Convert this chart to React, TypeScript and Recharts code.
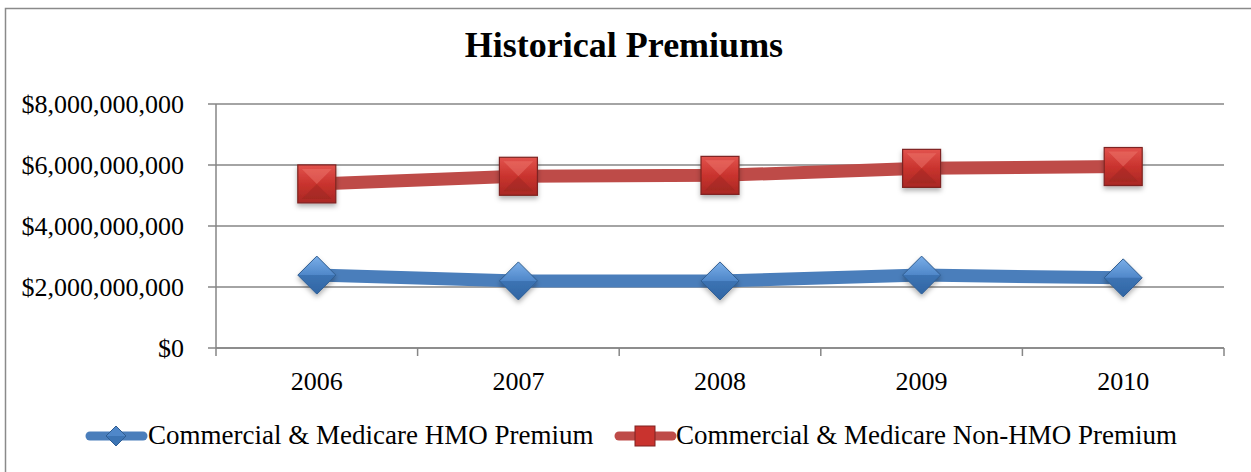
import { LineChart, Line, XAxis, YAxis, CartesianGrid } from "recharts"

// Historical premiums, 2006-2010
const years = ["2006", "2007", "2008", "2009", "2010"]
const hmoPremium = [2.39e9, 2.2e9, 2.2e9, 2.39e9, 2.3e9]
const nonHmoPremium = [5.38e9, 5.63e9, 5.66e9, 5.89e9, 5.95e9]
const yTicks = [0, 2e9, 4e9, 6e9, 8e9]

const HMO_NAME = "Commercial & Medicare HMO Premium"
const NON_HMO_NAME = "Commercial & Medicare Non-HMO Premium"

const FONT = "Liberation Serif"
const GRID = "#868686"
const BLUE = "#4A7EBB"
const RED = "#BE4B48"

const data = years.map((year, i) => ({
  year,
  hmo: hmoPremium[i],
  nonHmo: nonHmoPremium[i],
}))

const HALF_BAND = 100.8

function fmtMoney(v: number): string {
  return "$" + v.toLocaleString("en-US")
}

function Diamond({ cx, cy, size = 19 }: { cx: number; cy: number; size?: number }) {
  const h = size
  return (
    <g filter="url(#markShadow)">
      <polygon
        points={`${cx},${cy - h} ${cx + h},${cy} ${cx},${cy + h} ${cx - h},${cy}`}
        fill="url(#blueGrad)"
        stroke="#2F5C8F"
        strokeWidth={1}
      />
      <polygon points={`${cx - h},${cy} ${cx + h},${cy} ${cx},${cy + h}`} fill="#2E64A3" opacity={0.55} />
    </g>
  )
}

function Square({ cx, cy, size = 19 }: { cx: number; cy: number; size?: number }) {
  const h = size
  return (
    <g filter="url(#markShadow)">
      <rect x={cx - h} y={cy - h} width={h * 2} height={h * 2} fill="url(#redGrad)" stroke="#7E2320" strokeWidth={1.2} />
      <polygon
        points={`${cx - h + 4},${cy - h + 4} ${cx + h - 4},${cy - h + 4} ${cx},${cy}`}
        fill="#F07A72"
        opacity={0.45}
      />
      <polygon
        points={`${cx - h + 4},${cy + h - 4} ${cx + h - 4},${cy + h - 4} ${cx},${cy}`}
        fill="#8E2420"
        opacity={0.35}
      />
    </g>
  )
}

function XTick(props: any) {
  const { x, y, payload, index } = props
  const isLast = index === years.length - 1
  return (
    <g>
      <line x1={x - HALF_BAND} y1={y} x2={x - HALF_BAND} y2={y + 8} stroke={GRID} strokeWidth={1.5} />
      {isLast && <line x1={x + HALF_BAND} y1={y} x2={x + HALF_BAND} y2={y + 8} stroke={GRID} strokeWidth={1.5} />}
      <text x={x} y={y + 42} textAnchor="middle" fill="#000" fontFamily={FONT} fontSize={26}>
        {payload.value}
      </text>
    </g>
  )
}

function LegendIcon({ x, kind, color }: { x: number; kind: "diamond" | "square"; color: string }) {
  const cy = 436
  const mid = x + 30
  return (
    <g>
      <line x1={x + 4} y1={cy} x2={x + 57} y2={cy} stroke={color} strokeWidth={9} strokeLinecap="round" />
      {kind === "diamond" ? (
        <g>
          <polygon
            points={`${mid},${cy - 10} ${mid + 10},${cy} ${mid},${cy + 10} ${mid - 10},${cy}`}
            fill="#4F87C9"
            stroke="#2F5C8F"
          />
          <polygon points={`${mid - 10},${cy} ${mid + 10},${cy} ${mid},${cy + 10}`} fill="#2E64A3" opacity={0.55} />
        </g>
      ) : (
        <rect x={mid - 10} y={cy - 10} width={20} height={20} fill="#C9332E" stroke="#7E2320" />
      )}
    </g>
  )
}

export default function App() {
  return (
    <div
      style={{
        position: "fixed",
        left: 0,
        top: 0,
        width: 1251,
        height: 472,
        overflow: "hidden",
        background: "#fff",
      }}
    >
      <div style={{ position: "absolute", left: 0, top: 0 }}>
        <LineChart width={1251} height={472} data={data} margin={{ top: 104, right: 27, bottom: 74, left: 0 }}>
          <defs>
            <linearGradient id="blueGrad" x1="0" y1="0" x2="0" y2="1">
              <stop offset="0%" stopColor="#7AAEE8" />
              <stop offset="50%" stopColor="#4F87C9" />
              <stop offset="100%" stopColor="#3467A6" />
            </linearGradient>
            <linearGradient id="redGrad" x1="0" y1="0" x2="0" y2="1">
              <stop offset="0%" stopColor="#E2534D" />
              <stop offset="50%" stopColor="#C9332E" />
              <stop offset="100%" stopColor="#A92824" />
            </linearGradient>
            <filter id="markShadow" x="-50%" y="-50%" width="200%" height="200%">
              <feDropShadow dx={0} dy={3} stdDeviation={2.5} floodColor="#000" floodOpacity={0.3} />
            </filter>
          </defs>
          <CartesianGrid horizontal vertical={false} stroke={GRID} strokeWidth={1.5} />
          <XAxis
            dataKey="year"
            padding={{ left: HALF_BAND, right: HALF_BAND }}
            axisLine={{ stroke: GRID, strokeWidth: 1.5 }}
            tickLine={false}
            tickSize={0}
            tickMargin={0}
            tick={<XTick />}
            height={50}
            interval={0}
          />
          <YAxis
            width={216}
            domain={[0, 8e9]}
            ticks={yTicks}
            tickFormatter={fmtMoney}
            axisLine={{ stroke: GRID, strokeWidth: 1.5 }}
            tickLine={{ stroke: GRID, strokeWidth: 1.5 }}
            tickSize={8}
            tickMargin={24}
            tick={{ fill: "#000", fontSize: 26, fontFamily: FONT }}
            interval={0}
          />
          <Line
            dataKey="nonHmo"
            name={NON_HMO_NAME}
            stroke={RED}
            strokeWidth={13}
            isAnimationActive={false}
            dot={(p: any) => <Square key={`sq-${p.index}`} cx={p.cx} cy={p.cy} />}
            activeDot={false}
          />
          <Line
            dataKey="hmo"
            name={HMO_NAME}
            stroke={BLUE}
            strokeWidth={13}
            isAnimationActive={false}
            dot={(p: any) => <Diamond key={`dm-${p.index}`} cx={p.cx} cy={p.cy} />}
            activeDot={false}
          />
        </LineChart>
      </div>

      <svg width={1251} height={472} style={{ position: "absolute", left: 0, top: 0, pointerEvents: "none" }}>
        <rect x={5.5} y={8.5} width={1260} height={480} fill="none" stroke="#8a8a8a" strokeWidth={1.5} />
        <text x={624} y={57} textAnchor="middle" fontFamily={FONT} fontWeight="bold" fontSize={36} fill="#000">
          Historical Premiums
        </text>
        <LegendIcon x={86} kind="diamond" color={BLUE} />
        <text x={148} y={444} fontFamily={FONT} fontSize={27} fill="#000">
          {HMO_NAME}
        </text>
        <LegendIcon x={615} kind="square" color={RED} />
        <text x={676} y={444} fontFamily={FONT} fontSize={27} fill="#000">
          {NON_HMO_NAME}
        </text>
      </svg>
    </div>
  )
}
